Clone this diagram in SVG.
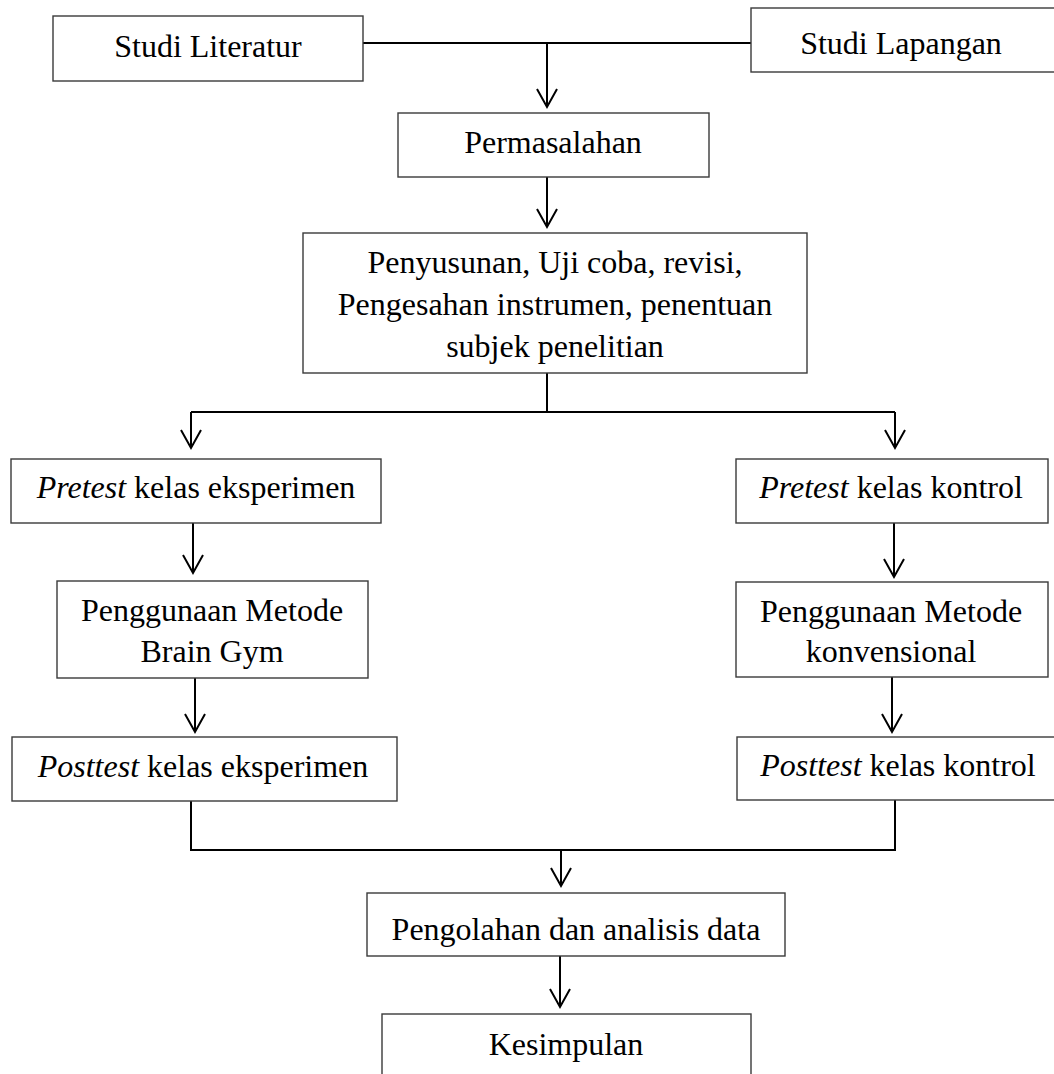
<svg xmlns="http://www.w3.org/2000/svg" width="1054" height="1074" viewBox="0 0 1054 1074">
<style>
.box{fill:#fff;stroke:#3a3a3a;stroke-width:1.4}
.t{font-family:"Liberation Serif","Times New Roman",serif;font-size:32px;fill:#000;text-anchor:middle}
.i{font-style:italic}
.c{fill:none;stroke:#000;stroke-width:2}
</style>
<rect width="1054" height="1074" fill="#fff"/>
<g id="connectors">
<path class="c" d="M363 43H751M547 43V107M537 89L547 107L557 89"/>
<path class="c" d="M547 177V227M537 209L547 227L557 209"/>
<path class="c" d="M547 373V412M191 412H895M191 412V448M181 430L191 448L201 430M895 412V448M885 430L895 448L905 430"/>
<path class="c" d="M193 523V573M183 555L193 573L203 555"/>
<path class="c" d="M195 678V732M185 714L195 732L205 714"/>
<path class="c" d="M894 523V577M884 559L894 577L904 559"/>
<path class="c" d="M892 677V732M882 714L892 732L902 714"/>
<path class="c" d="M191 801V850H895V800M561 850V886M551 868L561 886L571 868"/>
<path class="c" d="M560 956V1007M550 989L560 1007L570 989"/>
</g>
<g id="studi-literatur"><rect class="box" x="53" y="16" width="310" height="65"/><text class="t" x="208" y="57">Studi Literatur</text></g>
<g id="studi-lapangan"><rect class="box" x="751" y="8" width="310" height="64"/><text class="t" x="901" y="54">Studi Lapangan</text></g>
<g id="permasalahan"><rect class="box" x="398" y="113" width="311" height="64"/><text class="t" x="553" y="153">Permasalahan</text></g>
<g id="penyusunan"><rect class="box" x="303" y="233" width="504" height="140"/><text class="t" x="555" y="273">Penyusunan, Uji coba, revisi,</text><text class="t" x="555" y="315">Pengesahan instrumen, penentuan</text><text class="t" x="555" y="357">subjek penelitian</text></g>
<g id="pretest-eksperimen"><rect class="box" x="11" y="459" width="370" height="64"/><text class="t" x="196" y="498"><tspan class="i">Pretest</tspan> kelas eksperimen</text></g>
<g id="pretest-kontrol"><rect class="box" x="736" y="459" width="312" height="64"/><text class="t" x="891" y="498"><tspan class="i">Pretest</tspan> kelas kontrol</text></g>
<g id="brain-gym"><rect class="box" x="57" y="581" width="311" height="97"/><text class="t" x="212" y="621">Penggunaan Metode</text><text class="t" x="212" y="662">Brain Gym</text></g>
<g id="konvensional"><rect class="box" x="736" y="582" width="312" height="95"/><text class="t" x="891" y="622">Penggunaan Metode</text><text class="t" x="891" y="662">konvensional</text></g>
<g id="posttest-eksperimen"><rect class="box" x="12" y="737" width="385" height="64"/><text class="t" x="203" y="777"><tspan class="i">Posttest</tspan> kelas eksperimen</text></g>
<g id="posttest-kontrol"><rect class="box" x="737" y="737" width="324" height="63"/><text class="t" x="898" y="776"><tspan class="i">Posttest</tspan> kelas kontrol</text></g>
<g id="pengolahan"><rect class="box" x="367" y="893" width="418" height="63"/><text class="t" x="576" y="940">Pengolahan dan analisis data</text></g>
<g id="kesimpulan"><rect class="box" x="382" y="1014" width="369" height="70"/><text class="t" x="566" y="1055">Kesimpulan</text></g>
</svg>
